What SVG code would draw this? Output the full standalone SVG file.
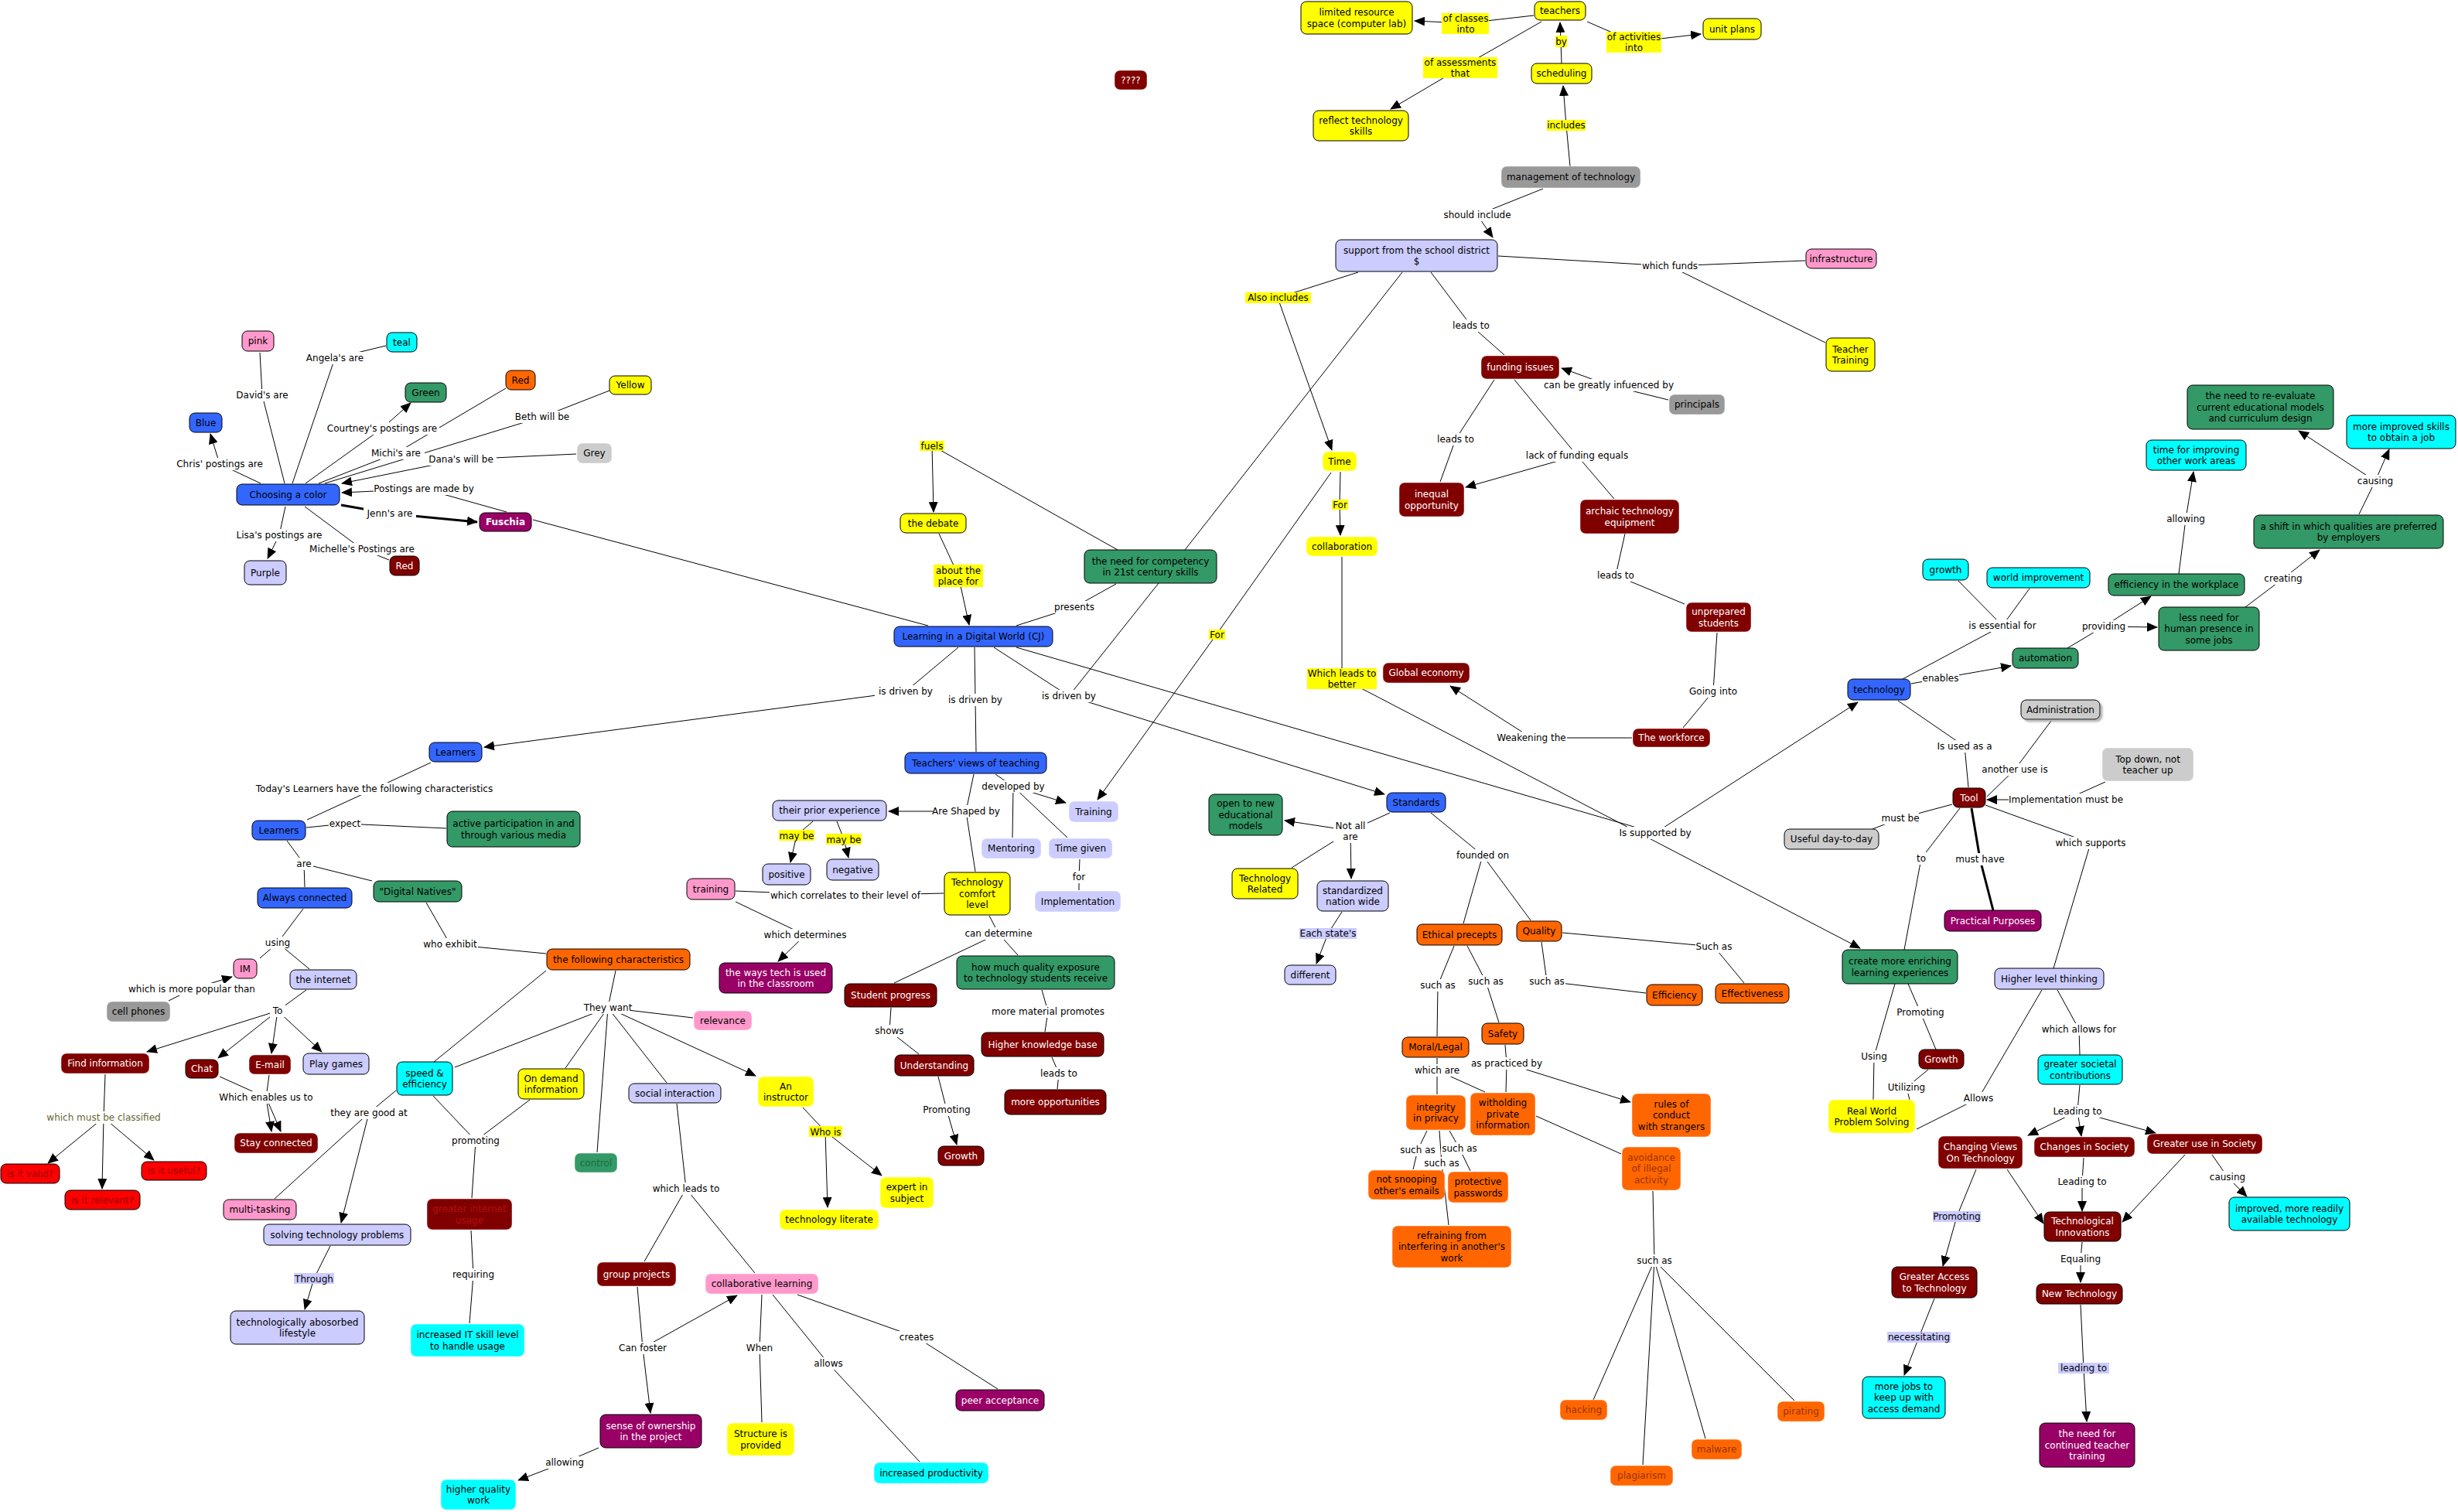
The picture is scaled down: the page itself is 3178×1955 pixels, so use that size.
<svg xmlns="http://www.w3.org/2000/svg" width="3178" height="1955" viewBox="0 0 3178 1955">
<defs>
<style>
.t{font-family:"DejaVu Sans",Verdana,"Liberation Sans",sans-serif;font-size:12px;text-anchor:middle;fill:#000}
.w{fill:#fff}
.b{font-weight:bold}
.ol{fill:#666633}
.dk{fill:#993300}
.n rect{stroke:#000;stroke-width:1}
.n.nb rect{stroke:#fff;stroke-opacity:.45}
.bl{fill:#3366ff}.lv{fill:#ccccff}.gr{fill:#339966}.dr{fill:#800000}.pu{fill:#990066}.ye{fill:#ffff00}.cy{fill:#00ffff}.or{fill:#ff6600}.pk{fill:#ff99cc}.g9{fill:#999999}.gc{fill:#cccccc}.rd{fill:#ff0000}
.m{fill:#fff}
#connectors path{stroke:#000;stroke-width:1;fill:none}
#connectors path.a{marker-end:url(#ar)}
#connectors path.k{stroke-width:3}
</style>
<marker id="ar" markerWidth="14" markerHeight="12" refX="13" refY="6" orient="auto" markerUnits="userSpaceOnUse"><path d="M0,0 L14,6 L0,12 z" fill="#000"/></marker>
<filter id="sh" x="-10%" y="-10%" width="130%" height="150%"><feDropShadow dx="3" dy="3" stdDeviation="1" flood-color="#999" flood-opacity=".7"/></filter>
</defs>
<rect width="3178" height="1955" fill="#fff"/>

<g id="connectors">
<!-- color cluster -->
<path d="M336 456L339 511L368 625"/>
<path d="M378 625L433 463L499 447"/>
<path d="M395 625L494 554"/><path class="a" d="M494 554L531 521"/>
<path d="M412 625L512 586L654 502"/>
<path d="M420 625L701 539L788 505"/>
<path d="M745 587L596 594"/><path class="a" d="M596 594L442 625"/>
<path d="M655 662L548 632"/><path class="a" d="M548 632L442 637"/>
<path d="M337 625L284 600"/><path class="a" d="M284 600L272 561"/>
<path class="k" d="M441 653L504 664"/><path class="a k" d="M504 664L617 675"/>
<path d="M369 655L361 692"/><path class="a" d="M361 692L346 722"/>
<path d="M394 655L468 710L503 724"/>
<path d="M689 672L1200 809"/>
<!-- top -->
<path d="M1983 20L1895 30"/><path class="a" d="M1895 30L1829 27"/>
<path d="M1993 28L1888 88"/><path class="a" d="M1888 88L1798 141"/>
<path d="M2019 82L2018 54"/><path class="a" d="M2018 54L2017 29"/>
<path d="M2052 28L2112 54"/><path class="a" d="M2112 54L2199 44"/>
<path d="M2030 215L2025 162"/><path class="a" d="M2025 162L2021 111"/>
<path d="M1995 244L1910 278"/><path class="a" d="M1910 278L1930 307"/>
<path d="M1937 331L2159 344L2334 337"/><path d="M2159 344L2360 443"/>
<path d="M1756 352L1652 385"/><path class="a" d="M1652 385L1722 582"/>
<path d="M1850 352L1902 421L1945 459"/>
<path d="M1813 352L1532 711"/>
<path d="M1932 491L1882 568L1862 623"/>
<path d="M1958 491L2039 589L2087 645"/><path class="a" d="M2039 589L1895 630"/>
<path d="M2157 517L2080 498"/><path class="a" d="M2080 498L2019 476"/>
<path d="M2101 690L2089 744L2178 781"/>
<path d="M2220 818L2215 894L2176 941"/>
<path d="M2110 954L1980 954"/><path class="a" d="M1980 954L1875 887"/>
<path d="M1733 610L1732 652"/><path class="a" d="M1732 652L1733 692"/>
<path d="M1721 611L1573 820"/><path class="a" d="M1573 820L1419 1034"/>
<path d="M1735 720L1735 877"/><path class="a" d="M1735 877L2405 1226"/>
<!-- learning -->
<path d="M1445 711L1205 576"/><path class="a" d="M1205 576L1207 662"/>
<path d="M1214 690L1239 744"/><path class="a" d="M1239 744L1253 808"/>
<path d="M1443 755L1389 785L1314 809"/>
<path d="M1239 837L1171 894"/><path class="a" d="M1171 894L626 966"/>
<path d="M1260 837L1261 905L1262 972"/>
<path d="M1285 837L1382 900"/><path class="a" d="M1382 900L1790 1027"/>
<path d="M1498 754L1382 900"/>
<path d="M1314 837L2140 1077"/><path class="a" d="M2140 1077L2402 908"/>
<path d="M1287 1001L1310 1017"/><path class="a" d="M1310 1017L1378 1038"/><path d="M1310 1017L1309 1083"/><path d="M1310 1017L1380 1083"/>
<path d="M1259 1001L1249 1049L1261 1127"/><path class="a" d="M1249 1049L1149 1049"/>
<path d="M1051 1062L1030 1080"/><path class="a" d="M1030 1080L1022 1115"/>
<path d="M1082 1062L1091 1085"/><path class="a" d="M1091 1085L1097 1109"/>
<path d="M1396 1111L1395 1134L1395 1151"/>
<path d="M951 1152L1093 1158L1220 1155"/>
<path d="M951 1166L1041 1209"/><path class="a" d="M1041 1209L1006 1243"/>
<path d="M1279 1184L1291 1207L1156 1271"/><path d="M1291 1207L1316 1235"/>
<path d="M1347 1280L1355 1308L1351 1334"/>
<path d="M1152 1303L1150 1333L1188 1363"/>
<path d="M1360 1367L1369 1388L1367 1408"/>
<path d="M1213 1392L1224 1435"/><path class="a" d="M1224 1435L1237 1480"/>
<!-- left -->
<path d="M557 986L484 1020L397 1060"/>
<path d="M396 1070L446 1065L577 1071"/>
<path d="M371 1087L393 1117L394 1147"/><path d="M393 1117L481 1139"/>
<path d="M392 1175L359 1219L336 1239"/><path d="M359 1219L400 1253"/>
<path d="M218 1294L248 1279"/><path class="a" d="M248 1279L300 1263"/>
<path d="M396 1280L359 1307"/><path class="a" d="M359 1307L190 1360"/><path class="a" d="M359 1307L282 1368"/><path class="a" d="M359 1307L351 1362"/><path class="a" d="M359 1307L416 1360"/>
<path d="M551 1167L582 1221L706 1233"/>
<path d="M796 1255L786 1303L588 1380"/><path d="M786 1303L731 1381"/><path d="M786 1303L772 1490"/><path d="M786 1303L896 1316"/><path class="a" d="M786 1303L977 1391"/><path d="M786 1303L862 1400"/>
<path d="M706 1255L561 1373"/>
<path d="M284 1392L344 1419"/><path d="M348 1390L344 1419"/><path class="a" d="M344 1419L351 1463"/><path class="a" d="M344 1419L363 1463"/>
<path d="M136 1389L134 1445"/><path class="a" d="M134 1445L62 1504"/><path class="a" d="M134 1445L132 1537"/><path class="a" d="M134 1445L199 1500"/>
<path d="M512 1410L477 1439L355 1550"/><path class="a" d="M477 1439L441 1581"/>
<path d="M427 1611L406 1653"/><path class="a" d="M406 1653L394 1693"/>
<path d="M560 1417L615 1475L610 1549"/><path d="M685 1422L615 1475"/>
<path d="M609 1591L612 1648L607 1711"/>
<path d="M875 1427L887 1537L833 1631"/><path d="M887 1537L976 1646"/>
<path d="M1038 1432L1067 1463"/><path class="a" d="M1067 1463L1070 1561"/><path class="a" d="M1067 1463L1140 1520"/>
<path d="M824 1664L831 1743"/><path class="a" d="M831 1743L841 1827"/><path class="a" d="M831 1743L953 1675"/>
<path d="M985 1674L982 1743L985 1839"/>
<path d="M999 1674L1071 1763L1189 1890"/>
<path d="M1031 1674L1185 1729L1290 1796"/>
<path d="M774 1872L730 1891"/><path class="a" d="M730 1891L670 1914"/>
<!-- standards -->
<path d="M1797 1051L1746 1074L1670 1122"/><path class="a" d="M1746 1074L1661 1061"/><path class="a" d="M1746 1074L1747 1136"/>
<path d="M1735 1179L1717 1207"/><path class="a" d="M1717 1207L1702 1246"/>
<path d="M1850 1051L1917 1106L1892 1194"/><path d="M1917 1106L1979 1190"/>
<path d="M2020 1206L2216 1224L2255 1271"/>
<path d="M1993 1218L2000 1269L2128 1284"/>
<path d="M1880 1223L1859 1274L1858 1340"/>
<path d="M1897 1223L1921 1269L1938 1322"/>
<path d="M1858 1368L1858 1384L1858 1415"/><path d="M1858 1384L1920 1412"/>
<path d="M1946 1351L1948 1375L1947 1412"/><path class="a" d="M1948 1375L2108 1425"/>
<path d="M1845 1462L1833 1487L1827 1512"/>
<path d="M1874 1462L1887 1485L1901 1514"/>
<path d="M1861 1462L1864 1504L1873 1584"/>
<path d="M1986 1443L2096 1492"/>
<path d="M2137 1540L2139 1630"/><path d="M2139 1630L2060 1810"/><path d="M2139 1630L2124 1894"/><path d="M2139 1630L2205 1860"/><path d="M2139 1630L2320 1811"/>
<!-- right -->
<path d="M3050 665L3071 622"/><path class="a" d="M3071 622L2972 557"/><path class="a" d="M3071 622L3089 581"/>
<path d="M2817 742L2826 671"/><path class="a" d="M2826 671L2836 610"/>
<path d="M2903 785L2952 748"/><path class="a" d="M2952 748L2999 711"/>
<path d="M2673 838L2720 810"/><path class="a" d="M2720 810L2781 771"/><path class="a" d="M2720 810L2789 811"/>
<path d="M2471 884L2509 877"/><path class="a" d="M2509 877L2600 861"/>
<path d="M2460 878L2589 809L2532 751"/><path d="M2589 809L2624 761"/>
<path d="M2454 906L2540 965L2545 1018"/>
<path d="M2652 932L2605 995L2569 1030"/>
<path d="M2722 1011L2671 1034"/><path class="a" d="M2671 1034L2569 1034"/>
<path d="M2524 1040L2457 1058L2421 1072"/>
<path d="M2567 1041L2703 1090L2655 1252"/>
<path d="M2534 1045L2484 1110L2462 1228"/>
<path class="k" d="M2549 1045L2560 1111L2577 1177"/>
<path d="M2467 1272L2483 1309L2503 1357"/>
<path d="M2450 1272L2423 1366L2422 1422"/>
<path d="M2493 1383L2465 1406L2469 1422"/>
<path d="M2660 1280L2688 1331L2689 1364"/>
<path d="M2640 1280L2558 1420L2478 1460"/>
<path d="M2689 1403L2686 1437"/><path class="a" d="M2686 1437L2622 1468"/><path class="a" d="M2686 1437L2691 1469"/><path class="a" d="M2686 1437L2787 1465"/>
<path d="M2555 1512L2530 1573"/><path class="a" d="M2530 1573L2512 1637"/>
<path class="a" d="M2595 1512L2642 1582"/>
<path d="M2694 1497L2692 1528"/><path class="a" d="M2692 1528L2692 1566"/>
<path class="a" d="M2825 1493L2744 1580"/>
<path d="M2860 1493L2880 1522"/><path class="a" d="M2880 1522L2905 1547"/>
<path d="M2692 1606L2690 1628"/><path class="a" d="M2690 1628L2690 1658"/>
<path d="M2501 1679L2481 1729"/><path class="a" d="M2481 1729L2462 1778"/>
<path d="M2690 1687L2694 1769"/><path class="a" d="M2694 1769L2698 1838"/>
</g>

<g id="labels">
<rect class="m" x="302" y="503" width="74" height="16"/><text class="t" x="339" y="515.3">David's are</text>
<rect class="m" x="393" y="455" width="80" height="16"/><text class="t" x="433" y="467.3">Angela's are</text>
<rect class="m" x="420" y="546" width="148" height="16"/><text class="t" x="494" y="558.3">Courtney's postings are</text>
<rect class="m" x="661" y="531" width="80" height="16"/><text class="t" x="701" y="543.3">Beth will be</text>
<rect class="m" x="475" y="578" width="74" height="16"/><text class="t" x="512" y="590.3">Michi's are</text>
<rect class="m" x="550" y="586" width="92" height="16"/><text class="t" x="596" y="598.3">Dana's will be</text>
<rect class="m" x="222" y="592" width="124" height="16"/><text class="t" x="284" y="604.3">Chris' postings are</text>
<rect class="m" x="483" y="624" width="130" height="16"/><text class="t" x="548" y="636.3">Postings are made by</text>
<rect class="m" x="470" y="656" width="68" height="16"/><text class="t" x="504" y="668.3">Jenn's are</text>
<rect class="m" x="299" y="684" width="124" height="16"/><text class="t" x="361" y="696.3">Lisa's postings are</text>
<rect class="m" x="394" y="702" width="148" height="16"/><text class="t" x="468" y="714.3">Michelle's Postings are</text>

<rect class="ye" x="1864" y="17" width="61" height="27"/><text class="t" x="1895" y="27.5">of classes<tspan x="1895" dy="14">into</tspan></text>
<rect class="ye" x="1840" y="74" width="96" height="27"/><text class="t" x="1888" y="84.5">of assessments<tspan x="1888" dy="14">that</tspan></text>
<rect class="ye" x="2011" y="46" width="15" height="15"/><text class="t" x="2018.5" y="57.5">by</text>
<rect class="ye" x="2077" y="41" width="71" height="27"/><text class="t" x="2112.5" y="51.5">of activities<tspan x="2112.5" dy="14">into</tspan></text>
<rect class="ye" x="2000" y="155" width="50" height="14"/><text class="t" x="2025" y="166.3">includes</text>
<rect class="m" x="1864" y="270" width="92" height="16"/><text class="t" x="1910" y="282.3">should include</text>
<rect class="m" x="2122" y="336" width="74" height="16"/><text class="t" x="2159" y="348.3">which funds</text>
<rect class="ye" x="1610" y="378" width="85" height="14"/><text class="t" x="1652.5" y="389.3">Also includes</text>
<rect class="m" x="1875" y="413" width="54" height="16"/><text class="t" x="1902" y="425.3">leads to</text>
<rect class="m" x="1994" y="490" width="172" height="16"/><text class="t" x="2080" y="502.3">can be greatly infuenced by</text>
<rect class="m" x="1855" y="560" width="54" height="16"/><text class="t" x="1882" y="572.3">leads to</text>
<rect class="m" x="1969" y="581" width="140" height="16"/><text class="t" x="2039" y="593.3">lack of funding equals</text>
<rect class="ye" x="1722" y="646" width="21" height="13"/><text class="t" x="1732.5" y="657">For</text>
<rect class="m" x="2062" y="736" width="54" height="16"/><text class="t" x="2089" y="748.3">leads to</text>
<rect class="ye" x="1690" y="864" width="90" height="27"/><text class="t" x="1735" y="874.5">Which leads to<tspan x="1735" dy="14">better</tspan></text>
<rect class="m" x="2182" y="886" width="66" height="16"/><text class="t" x="2215" y="898.3">Going into</text>
<rect class="m" x="1934" y="946" width="92" height="16"/><text class="t" x="1980" y="958.3">Weakening the</text>
<rect class="ye" x="1189" y="570" width="32" height="13"/><text class="t" x="1205" y="580.5">fuels</text>
<rect class="ye" x="1207" y="730" width="64" height="29"/><text class="t" x="1239" y="741.5">about the<tspan x="1239" dy="14">place for</tspan></text>
<rect class="m" x="1362" y="777" width="54" height="16"/><text class="t" x="1389" y="789.3">presents</text>
<rect class="ye" x="1563" y="814" width="21" height="13"/><text class="t" x="1573.5" y="825">For</text>
<rect class="m" x="1131" y="886" width="80" height="16"/><text class="t" x="1171" y="898.3">is driven by</text>
<rect class="m" x="1221" y="897" width="80" height="16"/><text class="t" x="1261" y="909.3">is driven by</text>
<rect class="m" x="1342" y="892" width="80" height="16"/><text class="t" x="1382" y="904.3">is driven by</text>
<rect class="m" x="2091" y="1069" width="98" height="16"/><text class="t" x="2140" y="1081.3">Is supported by</text>
<rect class="m" x="1270" y="1009" width="80" height="16"/><text class="t" x="1310" y="1021.3">developed by</text>
<rect class="m" x="1206" y="1041" width="86" height="16"/><text class="t" x="1249" y="1053.3">Are Shaped by</text>
<rect class="ye" x="1007" y="1073" width="46" height="14"/><text class="t" x="1030" y="1084.5">may be</text>
<rect class="ye" x="1068" y="1078" width="46" height="14"/><text class="t" x="1091" y="1089.5">may be</text>
<rect class="m" x="1383" y="1126" width="24" height="16"/><text class="t" x="1395" y="1138.3">for</text>
<rect class="m" x="995" y="1150" width="196" height="16"/><text class="t" x="1093" y="1162.3">which correlates to their level of</text>
<rect class="m" x="986" y="1201" width="110" height="16"/><text class="t" x="1041" y="1213.3">which determines</text>
<rect class="m" x="1248" y="1199" width="86" height="16"/><text class="t" x="1291" y="1211.3">can determine</text>
<rect class="m" x="1281" y="1300" width="148" height="16"/><text class="t" x="1355" y="1312.3">more material promotes</text>
<rect class="m" x="1129" y="1325" width="42" height="16"/><text class="t" x="1150" y="1337.3">shows</text>
<rect class="m" x="1342" y="1380" width="54" height="16"/><text class="t" x="1369" y="1392.3">leads to</text>
<rect class="m" x="1193" y="1427" width="62" height="16"/><text class="t" x="1224" y="1439.3">Promoting</text>
<rect class="ye" x="1046" y="1456" width="43" height="14"/><text class="t" x="1067.5" y="1467.5">Who is</text>
<rect class="m" x="841" y="1529" width="92" height="16"/><text class="t" x="887" y="1541.3">which leads to</text>
<rect class="m" x="798" y="1735" width="66" height="16"/><text class="t" x="831" y="1747.3">Can foster</text>
<rect class="m" x="964" y="1735" width="36" height="16"/><text class="t" x="982" y="1747.3">When</text>
<rect class="m" x="1050" y="1755" width="42" height="16"/><text class="t" x="1071" y="1767.3">allows</text>
<rect class="m" x="1161" y="1721" width="48" height="16"/><text class="t" x="1185" y="1733.3">creates</text>
<rect class="m" x="703" y="1883" width="54" height="16"/><text class="t" x="730" y="1895.3">allowing</text>
<rect class="m" x="1724" y="1059" width="44" height="31"/><text class="t" x="1746" y="1071.5">Not all<tspan x="1746" dy="14.5">are</tspan></text>
<rect class="lv" x="1680" y="1200" width="74" height="14"/><text class="t" x="1717" y="1211.3">Each state's</text>
<rect class="m" x="1884" y="1098" width="66" height="16"/><text class="t" x="1917" y="1110.3">founded on</text>
<rect class="m" x="2192" y="1216" width="48" height="16"/><text class="t" x="2216" y="1228.3">Such as</text>
<rect class="m" x="1835" y="1266" width="48" height="16"/><text class="t" x="1859" y="1278.3">such as</text>
<rect class="m" x="1897" y="1261" width="48" height="16"/><text class="t" x="1921" y="1273.3">such as</text>
<rect class="m" x="1976" y="1261" width="48" height="16"/><text class="t" x="2000" y="1273.3">such as</text>
<rect class="m" x="1828" y="1376" width="60" height="16"/><text class="t" x="1858" y="1388.3">which are</text>
<rect class="m" x="1899" y="1367" width="98" height="16"/><text class="t" x="1948" y="1379.3">as practiced by</text>
<rect class="m" x="1809" y="1479" width="48" height="16"/><text class="t" x="1833" y="1491.3">such as</text>
<rect class="m" x="1863" y="1477" width="48" height="16"/><text class="t" x="1887" y="1489.3">such as</text>
<rect class="m" x="1840" y="1496" width="48" height="16"/><text class="t" x="1864" y="1508.3">such as</text>
<rect class="m" x="2115" y="1622" width="48" height="16"/><text class="t" x="2139" y="1634.3">such as</text>
<rect class="m" x="3047" y="614" width="48" height="16"/><text class="t" x="3071" y="626.3">causing</text>
<rect class="m" x="2799" y="663" width="54" height="16"/><text class="t" x="2826" y="675.3">allowing</text>
<rect class="m" x="2925" y="740" width="54" height="16"/><text class="t" x="2952" y="752.3">creating</text>
<rect class="m" x="2537" y="801" width="104" height="16"/><text class="t" x="2589" y="813.3">is essential for</text>
<rect class="m" x="2689" y="802" width="62" height="16"/><text class="t" x="2720" y="814.3">providing</text>
<rect class="m" x="2485" y="869" width="48" height="16"/><text class="t" x="2509" y="881.3">enables</text>
<rect class="m" x="2500" y="957" width="80" height="16"/><text class="t" x="2540" y="969.3">Is used as a</text>
<rect class="m" x="2559" y="987" width="92" height="16"/><text class="t" x="2605" y="999.3">another use is</text>
<rect class="m" x="2597" y="1026" width="148" height="16"/><text class="t" x="2671" y="1038.3">Implementation must be</text>
<rect class="m" x="2433" y="1050" width="48" height="16"/><text class="t" x="2457" y="1062.3">must be</text>
<rect class="m" x="2657" y="1082" width="92" height="16"/><text class="t" x="2703" y="1094.3">which supports</text>
<rect class="m" x="2475" y="1102" width="18" height="16"/><text class="t" x="2484" y="1114.3">to</text>
<rect class="m" x="2529" y="1103" width="62" height="16"/><text class="t" x="2560" y="1115.3">must have</text>
<rect class="m" x="2452" y="1301" width="62" height="16"/><text class="t" x="2483" y="1313.3">Promoting</text>
<rect class="m" x="2636" y="1323" width="104" height="16"/><text class="t" x="2688" y="1335.3">which allows for</text>
<rect class="m" x="2405" y="1358" width="36" height="16"/><text class="t" x="2423" y="1370.3">Using</text>
<rect class="m" x="2435" y="1398" width="60" height="16"/><text class="t" x="2465" y="1410.3">Utilizing</text>
<rect class="m" x="2537" y="1412" width="42" height="16"/><text class="t" x="2558" y="1424.3">Allows</text>
<rect class="m" x="2653" y="1429" width="66" height="16"/><text class="t" x="2686" y="1441.3">Leading to</text>
<rect class="lv" x="2499" y="1566" width="62" height="14"/><text class="t" x="2530" y="1577.3">Promoting</text>
<rect class="m" x="2659" y="1520" width="66" height="16"/><text class="t" x="2692" y="1532.3">Leading to</text>
<rect class="m" x="2856" y="1514" width="48" height="16"/><text class="t" x="2880" y="1526.3">causing</text>
<rect class="m" x="2661" y="1620" width="58" height="16"/><text class="t" x="2690" y="1632.3">Equaling</text>
<rect class="lv" x="2440" y="1722" width="82" height="14"/><text class="t" x="2481" y="1733.3">necessitating</text>
<rect class="lv" x="2661" y="1762" width="66" height="14"/><text class="t" x="2694" y="1773.3">leading to</text>
<rect class="m" x="330" y="1012" width="308" height="16"/><text class="t" x="484" y="1024.3">Today's Learners have the following characteristics</text>
<rect class="m" x="425" y="1057" width="42" height="16"/><text class="t" x="446" y="1069.3">expect</text>
<rect class="m" x="381" y="1109" width="24" height="16"/><text class="t" x="393" y="1121.3">are</text>
<rect class="m" x="341" y="1211" width="36" height="16"/><text class="t" x="359" y="1223.3">using</text>
<rect class="m" x="546" y="1213" width="72" height="16"/><text class="t" x="582" y="1225.3">who exhibit</text>
<rect class="m" x="166" y="1271" width="164" height="16"/><text class="t" x="248" y="1283.3">which is more popular than</text>
<rect class="m" x="349" y="1299" width="20" height="16"/><text class="t" x="359" y="1311.3">To</text>
<rect class="m" x="755" y="1295" width="62" height="16"/><text class="t" x="786" y="1307.3">They want</text>
<rect class="m" x="284" y="1411" width="120" height="16"/><text class="t" x="344" y="1423.3">Which enables us to</text>
<rect class="m" x="427" y="1431" width="100" height="16"/><text class="t" x="477" y="1443.3">they are good at</text>
<rect class="m" x="61" y="1437" width="146" height="16"/><text class="t ol" x="134" y="1449.3">which must be classified</text>
<rect class="m" x="585" y="1467" width="60" height="16"/><text class="t" x="615" y="1479.3">promoting</text>
<rect class="m" x="583" y="1640" width="58" height="16"/><text class="t" x="612" y="1652.3">requiring</text>
<rect class="lv" x="380" y="1646" width="52" height="14"/><text class="t" x="406" y="1657.5">Through</text>
</g>

<g id="nodes">
<g id="n-pink" class="n"><rect class="pk" x="313" y="428" width="41" height="26" rx="7"/><text class="t" x="333.5" y="445.3">pink</text></g>
<g id="n-teal" class="n"><rect class="cy" x="500" y="430" width="39" height="25" rx="7"/><text class="t" x="519.5" y="446.8">teal</text></g>
<g id="n-red-orange" class="n"><rect class="or" x="654" y="479" width="38" height="25" rx="7"/><text class="t" x="673" y="495.8">Red</text></g>
<g id="n-green" class="n"><rect class="gr" x="524" y="495" width="53" height="25" rx="7"/><text class="t" x="550.5" y="511.8">Green</text></g>
<g id="n-yellow" class="n"><rect class="ye" x="788" y="486" width="54" height="24" rx="7"/><text class="t" x="815" y="502.3">Yellow</text></g>
<g id="n-blue" class="n"><rect class="bl" x="245" y="534" width="42" height="25" rx="7"/><text class="t" x="266" y="550.8">Blue</text></g>
<g id="n-grey" class="n nb"><rect class="gc" x="746" y="573" width="45" height="26" rx="7"/><text class="t" x="768.5" y="590.3">Grey</text></g>
<g id="n-choosing" class="n"><rect class="bl" x="306" y="626" width="133" height="27" rx="7"/><text class="t" x="372.5" y="643.8">Choosing a color</text></g>
<g id="n-fuschia" class="n"><rect class="pu" x="620" y="663" width="67" height="24" rx="7"/><text class="t w b" x="653.5" y="679.3">Fuschia</text></g>
<g id="n-purple" class="n"><rect class="lv" x="316" y="725" width="54" height="31" rx="7"/><text class="t" x="343" y="744.8">Purple</text></g>
<g id="n-red-dark" class="n"><rect class="dr" x="504" y="719" width="38" height="25" rx="7"/><text class="t w" x="523" y="735.8">Red</text></g>
<g id="n-qqqq" class="n nb"><rect class="dr" x="1441" y="91" width="42" height="25" rx="7"/><text class="t w" x="1462" y="107.8">????</text></g>

<g id="n-limited" class="n"><rect class="ye" x="1682" y="2" width="144" height="42" rx="7"/><text class="t" x="1754" y="20">limited resource<tspan x="1754" dy="14.5">space (computer lab)</tspan></text></g>
<g id="n-teachers" class="n"><rect class="ye" x="1984" y="2" width="66" height="24" rx="7"/><text class="t" x="2017" y="18.3">teachers</text></g>
<g id="n-unit-plans" class="n"><rect class="ye" x="2202" y="24" width="75" height="27" rx="7"/><text class="t" x="2239.5" y="41.8">unit plans</text></g>
<g id="n-scheduling" class="n"><rect class="ye" x="1980" y="82" width="78" height="26" rx="7"/><text class="t" x="2019" y="99.3">scheduling</text></g>
<g id="n-reflect" class="n"><rect class="ye" x="1698" y="143" width="123" height="39" rx="7"/><text class="t" x="1759.5" y="159.6">reflect technology<tspan x="1759.5" dy="14.5">skills</tspan></text></g>
<g id="n-mgmt" class="n nb"><rect class="g9" x="1941" y="215" width="180" height="28" rx="7"/><text class="t" x="2031" y="233.3">management of technology</text></g>
<g id="n-support" class="n"><rect class="lv" x="1727" y="310" width="209" height="41" rx="7"/><text class="t" x="1831.5" y="327.6">support from the school district<tspan x="1831.5" dy="14.5">$</tspan></text></g>
<g id="n-infrastructure" class="n"><rect class="pk" x="2335" y="322" width="91" height="25" rx="7"/><text class="t" x="2380.5" y="338.8">infrastructure</text></g>
<g id="n-teacher-training" class="n"><rect class="ye" x="2361" y="437" width="63" height="43" rx="7"/><text class="t" x="2392.5" y="455.6">Teacher<tspan x="2392.5" dy="14.5">Training</tspan></text></g>
<g id="n-funding" class="n nb"><rect class="dr" x="1915" y="460" width="101" height="30" rx="7"/><text class="t w" x="1965.5" y="479.3">funding issues</text></g>
<g id="n-principals" class="n nb"><rect class="g9" x="2158" y="510" width="72" height="26" rx="7"/><text class="t" x="2194" y="527.3">principals</text></g>

<g id="n-debate" class="n"><rect class="ye" x="1164" y="664" width="85" height="25" rx="7"/><text class="t" x="1206.5" y="680.8">the debate</text></g>
<g id="n-need-competency" class="n"><rect class="gr" x="1402" y="711" width="171" height="43" rx="7"/><text class="t" x="1487.5" y="729.6">the need for competency<tspan x="1487.5" dy="14.5">in 21st century skills</tspan></text></g>
<g id="n-learning" class="n"><rect class="bl" x="1156" y="810" width="205" height="26" rx="7"/><text class="t" x="1258.5" y="827.3">Learning in a Digital World (CJ)</text></g>
<g id="n-time" class="n nb"><rect class="ye" x="1710" y="584" width="44" height="25" rx="7"/><text class="t" x="1732" y="600.8">Time</text></g>
<g id="n-collaboration" class="n nb"><rect class="ye" x="1689" y="694" width="92" height="25" rx="7"/><text class="t" x="1735" y="710.8">collaboration</text></g>
<g id="n-inequal" class="n nb"><rect class="dr" x="1809" y="624" width="84" height="44" rx="7"/><text class="t w" x="1851" y="643.1">inequal<tspan x="1851" dy="14.5">opportunity</tspan></text></g>
<g id="n-archaic" class="n nb"><rect class="dr" x="2043" y="646" width="128" height="44" rx="7"/><text class="t w" x="2107" y="665.1">archaic technology<tspan x="2107" dy="14.5">equipment</tspan></text></g>
<g id="n-unprepared" class="n nb"><rect class="dr" x="2180" y="779" width="84" height="38" rx="7"/><text class="t w" x="2222" y="795.1">unprepared<tspan x="2222" dy="14.5">students</tspan></text></g>
<g id="n-global" class="n nb"><rect class="dr" x="1788" y="857" width="112" height="26" rx="7"/><text class="t w" x="1844" y="874.3">Global economy</text></g>
<g id="n-workforce" class="n nb"><rect class="dr" x="2111" y="942" width="100" height="24" rx="7"/><text class="t w" x="2161" y="958.3">The workforce</text></g>

<g id="n-reevaluate" class="n"><rect class="gr" x="2828" y="498" width="189" height="57" rx="7"/><text class="t" x="2922.5" y="516.3">the need to re-evaluate<tspan x="2922.5" dy="14.5">current educational models</tspan><tspan x="2922.5" dy="14.5">and curriculum design</tspan></text></g>
<g id="n-improved-skills" class="n"><rect class="cy" x="3034" y="537" width="141" height="43" rx="7"/><text class="t" x="3104.5" y="555.6">more improved skills<tspan x="3104.5" dy="14.5">to obtain a job</tspan></text></g>
<g id="n-time-improving" class="n"><rect class="cy" x="2775" y="569" width="129" height="39" rx="7"/><text class="t" x="2839.5" y="585.6">time for improving<tspan x="2839.5" dy="14.5">other work areas</tspan></text></g>
<g id="n-shift" class="n"><rect class="gr" x="2914" y="666" width="245" height="43" rx="7"/><text class="t" x="3036.5" y="684.6">a shift in which qualities are preferred<tspan x="3036.5" dy="14.5">by employers</tspan></text></g>
<g id="n-growth-cy" class="n"><rect class="cy" x="2486" y="723" width="59" height="27" rx="7"/><text class="t" x="2515.5" y="740.8">growth</text></g>
<g id="n-world" class="n"><rect class="cy" x="2569" y="734" width="133" height="26" rx="7"/><text class="t" x="2635.5" y="751.3">world improvement</text></g>
<g id="n-efficiency-wp" class="n"><rect class="gr" x="2726" y="742" width="176" height="28" rx="7"/><text class="t" x="2814" y="760.3">efficiency in the workplace</text></g>
<g id="n-less-need" class="n"><rect class="gr" x="2791" y="785" width="130" height="56" rx="7"/><text class="t" x="2856" y="802.8">less need for<tspan x="2856" dy="14.5">human presence in</tspan><tspan x="2856" dy="14.5">some jobs</tspan></text></g>
<g id="n-automation" class="n"><rect class="gr" x="2602" y="838" width="85" height="26" rx="7"/><text class="t" x="2644.5" y="855.3">automation</text></g>
<g id="n-technology" class="n"><rect class="bl" x="2389" y="878" width="81" height="27" rx="7"/><text class="t" x="2429.5" y="895.8">technology</text></g>
<g id="n-administration" class="n"><rect class="gc" x="2613" y="905" width="102" height="25" rx="7" filter="url(#sh)"/><text class="t" x="2664" y="921.8">Administration</text></g>
<g id="n-topdown" class="n nb"><rect class="gc" x="2718" y="967" width="118" height="43" rx="7"/><text class="t" x="2777" y="985.6">Top down, not<tspan x="2777" dy="14.5">teacher up</tspan></text></g>
<g id="n-tool" class="n"><rect class="dr" x="2525" y="1019" width="42" height="25" rx="7"/><text class="t w" x="2546" y="1035.8">Tool</text></g>
<g id="n-useful" class="n"><rect class="gc" x="2307" y="1072" width="122" height="26" rx="7"/><text class="t" x="2368" y="1089.3">Useful day-to-day</text></g>
<g id="n-practical" class="n"><rect class="pu" x="2514" y="1177" width="125" height="27" rx="7"/><text class="t w" x="2576.5" y="1194.8">Practical Purposes</text></g>
<g id="n-create" class="n"><rect class="gr" x="2382" y="1228" width="149" height="44" rx="7"/><text class="t" x="2456.5" y="1247.1">create more enriching<tspan x="2456.5" dy="14.5">learning experiences</tspan></text></g>
<g id="n-hlt" class="n"><rect class="lv" x="2579" y="1252" width="141" height="27" rx="7"/><text class="t" x="2649.5" y="1269.8">Higher level thinking</text></g>
<g id="n-growth-r" class="n"><rect class="dr" x="2481" y="1357" width="58" height="25" rx="7"/><text class="t w" x="2510" y="1373.8">Growth</text></g>
<g id="n-gsc" class="n"><rect class="cy" x="2635" y="1364" width="109" height="38" rx="7"/><text class="t" x="2689.5" y="1380.1">greater societal<tspan x="2689.5" dy="14.5">contributions</tspan></text></g>
<g id="n-realworld" class="n nb"><rect class="ye" x="2364" y="1422" width="112" height="43" rx="7"/><text class="t" x="2420" y="1440.6">Real World<tspan x="2420" dy="14.5">Problem Solving</tspan></text></g>
<g id="n-changing-views" class="n nb"><rect class="dr" x="2506" y="1469" width="109" height="42" rx="7"/><text class="t w" x="2560.5" y="1487.1">Changing Views<tspan x="2560.5" dy="14.5">On Technology</tspan></text></g>
<g id="n-changes-society" class="n nb"><rect class="dr" x="2630" y="1470" width="130" height="26" rx="7"/><text class="t w" x="2695" y="1487.3">Changes in Society</text></g>
<g id="n-greater-use" class="n nb"><rect class="dr" x="2776" y="1466" width="149" height="26" rx="7"/><text class="t w" x="2850.5" y="1483.3">Greater use in Society</text></g>
<g id="n-greater-access" class="n"><rect class="dr" x="2446" y="1638" width="110" height="40" rx="7"/><text class="t w" x="2501" y="1655.1">Greater Access<tspan x="2501" dy="14.5">to Technology</tspan></text></g>
<g id="n-tech-innov" class="n"><rect class="dr" x="2643" y="1567" width="99" height="38" rx="7"/><text class="t w" x="2692.5" y="1583.1">Technological<tspan x="2692.5" dy="14.5">Innovations</tspan></text></g>
<g id="n-improved-tech" class="n"><rect class="cy" x="2882" y="1548" width="156" height="43" rx="7"/><text class="t" x="2960" y="1566.6">improved, more readily<tspan x="2960" dy="14.5">available technology</tspan></text></g>
<g id="n-new-tech" class="n"><rect class="dr" x="2633" y="1660" width="111" height="26" rx="7"/><text class="t w" x="2688.5" y="1677.3">New Technology</text></g>
<g id="n-more-jobs" class="n"><rect class="cy" x="2408" y="1780" width="107" height="54" rx="7"/><text class="t" x="2461.5" y="1796.8">more jobs to<tspan x="2461.5" dy="14.5">keep up with</tspan><tspan x="2461.5" dy="14.5">access demand</tspan></text></g>
<g id="n-continued" class="n"><rect class="pu" x="2637" y="1840" width="123" height="57" rx="7"/><text class="t w" x="2698.5" y="1858.3">the need for<tspan x="2698.5" dy="14.5">continued teacher</tspan><tspan x="2698.5" dy="14.5">training</tspan></text></g>

<g id="n-learners1" class="n"><rect class="bl" x="555" y="960" width="68" height="25" rx="7"/><text class="t" x="589" y="976.8">Learners</text></g>
<g id="n-learners2" class="n"><rect class="bl" x="326" y="1061" width="69" height="25" rx="7"/><text class="t" x="360.5" y="1077.8">Learners</text></g>
<g id="n-active" class="n"><rect class="gr" x="578" y="1049" width="172" height="46" rx="7"/><text class="t" x="664" y="1069.1">active participation in and<tspan x="664" dy="14.5">through various media</tspan></text></g>
<g id="n-always" class="n"><rect class="bl" x="333" y="1148" width="122" height="26" rx="7"/><text class="t" x="394" y="1165.3">Always connected</text></g>
<g id="n-natives" class="n"><rect class="gr" x="483" y="1139" width="114" height="27" rx="7"/><text class="t" x="540" y="1156.8">"Digital Natives"</text></g>
<g id="n-im" class="n"><rect class="pk" x="302" y="1240" width="30" height="25" rx="7"/><text class="t" x="317" y="1256.8">IM</text></g>
<g id="n-internet" class="n"><rect class="lv" x="375" y="1254" width="86" height="25" rx="7"/><text class="t" x="418" y="1270.8">the internet</text></g>
<g id="n-cell" class="n nb"><rect class="g9" x="138" y="1295" width="82" height="26" rx="7"/><text class="t" x="179" y="1312.3">cell phones</text></g>
<g id="n-following" class="n"><rect class="or" x="707" y="1227" width="185" height="27" rx="7"/><text class="t" x="799.5" y="1244.8">the following characteristics</text></g>
<g id="n-find" class="n nb"><rect class="dr" x="79" y="1362" width="114" height="26" rx="7"/><text class="t w" x="136" y="1379.3">Find information</text></g>
<g id="n-chat" class="n"><rect class="dr" x="240" y="1370" width="42" height="24" rx="7"/><text class="t w" x="261" y="1386.3">Chat</text></g>
<g id="n-email" class="n nb"><rect class="dr" x="322" y="1364" width="54" height="25" rx="7"/><text class="t w" x="349" y="1380.8">E-mail</text></g>
<g id="n-games" class="n"><rect class="lv" x="392" y="1362" width="85" height="27" rx="7"/><text class="t" x="434.5" y="1379.8">Play games</text></g>
<g id="n-speed" class="n"><rect class="cy" x="513" y="1373" width="72" height="43" rx="7"/><text class="t" x="549" y="1391.6">speed &amp;<tspan x="549" dy="14.5">efficiency</tspan></text></g>
<g id="n-ondemand" class="n"><rect class="ye" x="670" y="1382" width="85" height="39" rx="7"/><text class="t" x="712.5" y="1398.6">On demand<tspan x="712.5" dy="14.5">information</tspan></text></g>
<g id="n-stay" class="n nb"><rect class="dr" x="303" y="1465" width="108" height="26" rx="7"/><text class="t w" x="357" y="1482.3">Stay connected</text></g>
<g id="n-valid" class="n"><rect class="rd" x="1" y="1505" width="76" height="25" rx="7"/><text class="t" fill="#990000" style="fill:#990000" x="39" y="1521.8">is it valid?</text></g>
<g id="n-useful-q" class="n"><rect class="rd" x="183" y="1502" width="84" height="24" rx="7"/><text class="t" style="fill:#990000" x="225" y="1518.3">is it useful?</text></g>
<g id="n-relevant" class="n"><rect class="rd" x="84" y="1539" width="97" height="25" rx="7"/><text class="t" style="fill:#990000" x="132.5" y="1555.8">is it relevant?</text></g>
<g id="n-multi" class="n"><rect class="pk" x="289" y="1551" width="94" height="26" rx="7"/><text class="t" x="336" y="1568.3">multi-tasking</text></g>
<g id="n-solving" class="n"><rect class="lv" x="341" y="1583" width="190" height="27" rx="7"/><text class="t" x="436" y="1600.8">solving technology problems</text></g>
<g id="n-absorbed" class="n"><rect class="lv" x="298" y="1695" width="173" height="43" rx="7"/><text class="t" x="384.5" y="1713.6">technologically abosorbed<tspan x="384.5" dy="14.5">lifestyle</tspan></text></g>
<g id="n-giu" class="n nb"><rect class="dr" x="552" y="1550" width="110" height="40" rx="7"/><text class="t" style="fill:#b01010" x="607" y="1567.1">greater internet<tspan x="607" dy="14.5">usage</tspan></text></g>
<g id="n-itskill" class="n nb"><rect class="cy" x="531" y="1712" width="147" height="42" rx="7"/><text class="t" x="604.5" y="1730.1">increased IT skill level<tspan x="604.5" dy="14.5">to handle usage</tspan></text></g>
<g id="n-control" class="n nb"><rect class="gr" x="743" y="1491" width="55" height="25" rx="7"/><text class="t" style="fill:#1a6b40" x="770.5" y="1507.8">control</text></g>
<g id="n-hqw" class="n nb"><rect class="cy" x="570" y="1913" width="97" height="39" rx="7"/><text class="t" x="618.5" y="1929.6">higher quality<tspan x="618.5" dy="14.5">work</tspan></text></g>

<g id="n-prior" class="n"><rect class="lv" x="999" y="1035" width="147" height="26" rx="7"/><text class="t" x="1072.5" y="1052.3">their prior experience</text></g>
<g id="n-training-lv" class="n nb"><rect class="lv" x="1382" y="1036" width="64" height="27" rx="7"/><text class="t" x="1414" y="1053.8">Training</text></g>
<g id="n-mentoring" class="n nb"><rect class="lv" x="1269" y="1084" width="77" height="26" rx="7"/><text class="t" x="1307.5" y="1101.3">Mentoring</text></g>
<g id="n-timegiven" class="n nb"><rect class="lv" x="1356" y="1084" width="82" height="26" rx="7"/><text class="t" x="1397" y="1101.3">Time given</text></g>
<g id="n-views" class="n"><rect class="bl" x="1170" y="973" width="183" height="27" rx="7"/><text class="t" x="1261.5" y="990.8">Teachers' views of teaching</text></g>
<g id="n-positive" class="n"><rect class="lv" x="986" y="1117" width="62" height="27" rx="7"/><text class="t" x="1017" y="1134.8">positive</text></g>
<g id="n-negative" class="n"><rect class="lv" x="1069" y="1111" width="67" height="27" rx="7"/><text class="t" x="1102.5" y="1128.8">negative</text></g>
<g id="n-training-pk" class="n"><rect class="pk" x="888" y="1136" width="62" height="27" rx="7"/><text class="t" x="919" y="1153.8">training</text></g>
<g id="n-tcl" class="n"><rect class="ye" x="1221" y="1128" width="85" height="55" rx="7"/><text class="t" x="1263.5" y="1145.3">Technology<tspan x="1263.5" dy="14.5">comfort</tspan><tspan x="1263.5" dy="14.5">level</tspan></text></g>
<g id="n-implementation" class="n nb"><rect class="lv" x="1338" y="1152" width="111" height="27" rx="7"/><text class="t" x="1393.5" y="1169.8">Implementation</text></g>
<g id="n-ways" class="n"><rect class="pu" x="930" y="1245" width="146" height="39" rx="7"/><text class="t w" x="1003" y="1261.6">the ways tech is used<tspan x="1003" dy="14.5">in the classroom</tspan></text></g>
<g id="n-exposure" class="n"><rect class="gr" x="1237" y="1236" width="204" height="43" rx="7"/><text class="t" x="1339" y="1254.6">how much quality exposure<tspan x="1339" dy="14.5">to technology students receive</tspan></text></g>
<g id="n-progress" class="n"><rect class="dr" x="1092" y="1272" width="119" height="30" rx="7"/><text class="t w" x="1151.5" y="1291.3">Student progress</text></g>
<g id="n-relevance" class="n nb"><rect class="pk" x="897" y="1307" width="75" height="25" rx="7"/><text class="t" x="934.5" y="1323.8">relevance</text></g>
<g id="n-hkb" class="n"><rect class="dr" x="1269" y="1335" width="158" height="31" rx="7"/><text class="t w" x="1348" y="1354.8">Higher knowledge base</text></g>
<g id="n-understanding" class="n"><rect class="dr" x="1157" y="1364" width="102" height="27" rx="7"/><text class="t w" x="1208" y="1381.8">Understanding</text></g>
<g id="n-social" class="n"><rect class="lv" x="813" y="1401" width="119" height="25" rx="7"/><text class="t" x="872.5" y="1417.8">social interaction</text></g>
<g id="n-instructor" class="n nb"><rect class="ye" x="980" y="1392" width="72" height="39" rx="7"/><text class="t" x="1016" y="1408.6">An<tspan x="1016" dy="14.5">instructor</tspan></text></g>
<g id="n-opportunities" class="n"><rect class="dr" x="1299" y="1409" width="131" height="32" rx="7"/><text class="t w" x="1364.5" y="1429.3">more opportunities</text></g>
<g id="n-growth-m" class="n"><rect class="dr" x="1213" y="1482" width="59" height="25" rx="7"/><text class="t w" x="1242.5" y="1498.8">Growth</text></g>
<g id="n-expert" class="n nb"><rect class="ye" x="1138" y="1522" width="69" height="40" rx="7"/><text class="t" x="1172.5" y="1539.1">expert in<tspan x="1172.5" dy="14.5">subject</tspan></text></g>
<g id="n-literate" class="n nb"><rect class="ye" x="1008" y="1564" width="128" height="26" rx="7"/><text class="t" x="1072" y="1581.3">technology literate</text></g>
<g id="n-group" class="n nb"><rect class="dr" x="772" y="1632" width="102" height="31" rx="7"/><text class="t w" x="823" y="1651.8">group projects</text></g>
<g id="n-collab" class="n nb"><rect class="pk" x="912" y="1647" width="146" height="26" rx="7"/><text class="t" x="985" y="1664.3">collaborative learning</text></g>
<g id="n-ownership" class="n"><rect class="pu" x="776" y="1829" width="131" height="43" rx="7"/><text class="t w" x="841.5" y="1847.6">sense of ownership<tspan x="841.5" dy="14.5">in the project</tspan></text></g>
<g id="n-structure" class="n nb"><rect class="ye" x="940" y="1840" width="87" height="42" rx="7"/><text class="t" x="983.5" y="1858.1">Structure is<tspan x="983.5" dy="14.5">provided</tspan></text></g>
<g id="n-peer" class="n"><rect class="pu" x="1236" y="1797" width="114" height="27" rx="7"/><text class="t w" x="1293" y="1814.8">peer acceptance</text></g>
<g id="n-productivity" class="n nb"><rect class="cy" x="1130" y="1891" width="148" height="27" rx="7"/><text class="t" x="1204" y="1908.8">increased productivity</text></g>

<g id="n-open" class="n"><rect class="gr" x="1563" y="1027" width="95" height="53" rx="7"/><text class="t" x="1610.5" y="1043.3">open to new<tspan x="1610.5" dy="14.5">educational</tspan><tspan x="1610.5" dy="14.5">models</tspan></text></g>
<g id="n-standards" class="n"><rect class="bl" x="1793" y="1025" width="76" height="25" rx="7"/><text class="t" x="1831" y="1041.8">Standards</text></g>
<g id="n-tech-related" class="n"><rect class="ye" x="1593" y="1123" width="85" height="39" rx="7"/><text class="t" x="1635.5" y="1139.6">Technology<tspan x="1635.5" dy="14.5">Related</tspan></text></g>
<g id="n-standardized" class="n"><rect class="lv" x="1703" y="1139" width="92" height="39" rx="7"/><text class="t" x="1749" y="1155.6">standardized<tspan x="1749" dy="14.5">nation wide</tspan></text></g>
<g id="n-different" class="n"><rect class="lv" x="1661" y="1248" width="66" height="25" rx="7"/><text class="t" x="1694" y="1264.8">different</text></g>
<g id="n-ethical" class="n"><rect class="or" x="1832" y="1195" width="110" height="27" rx="7"/><text class="t" x="1887" y="1212.8">Ethical precepts</text></g>
<g id="n-quality" class="n"><rect class="or" x="1961" y="1191" width="58" height="26" rx="7"/><text class="t" x="1990" y="1208.3">Quality</text></g>
<g id="n-efficiency" class="n"><rect class="or" x="2129" y="1273" width="72" height="27" rx="7"/><text class="t" x="2165" y="1290.8">Efficiency</text></g>
<g id="n-effectiveness" class="n"><rect class="or" x="2218" y="1272" width="95" height="25" rx="7"/><text class="t" x="2265.5" y="1288.8">Effectiveness</text></g>
<g id="n-safety" class="n"><rect class="or" x="1916" y="1323" width="54" height="27" rx="7"/><text class="t" x="1943" y="1340.8">Safety</text></g>
<g id="n-moral" class="n"><rect class="or" x="1813" y="1341" width="86" height="26" rx="7"/><text class="t" x="1856" y="1358.3">Moral/Legal</text></g>
<g id="n-integrity" class="n nb"><rect class="or" x="1818" y="1416" width="77" height="45" rx="7"/><text class="t" x="1856.5" y="1435.6">integrity<tspan x="1856.5" dy="14.5">in privacy</tspan></text></g>
<g id="n-witholding" class="n nb"><rect class="or" x="1901" y="1413" width="84" height="55" rx="7"/><text class="t" x="1943" y="1430.3">witholding<tspan x="1943" dy="14.5">private</tspan><tspan x="1943" dy="14.5">information</tspan></text></g>
<g id="n-rules" class="n nb"><rect class="or" x="2110" y="1414" width="102" height="56" rx="7"/><text class="t" x="2161" y="1431.8">rules of<tspan x="2161" dy="14.5">conduct</tspan><tspan x="2161" dy="14.5">with strangers</tspan></text></g>
<g id="n-snooping" class="n nb"><rect class="or" x="1769" y="1513" width="99" height="38" rx="7"/><text class="t" x="1818.5" y="1529.1">not snooping<tspan x="1818.5" dy="14.5">other's emails</tspan></text></g>
<g id="n-passwords" class="n nb"><rect class="or" x="1872" y="1515" width="78" height="40" rx="7"/><text class="t" x="1911" y="1532.1">protective<tspan x="1911" dy="14.5">passwords</tspan></text></g>
<g id="n-avoidance" class="n nb"><rect class="or" x="2097" y="1483" width="76" height="56" rx="7"/><text class="t dk" x="2135" y="1500.8">avoidance<tspan x="2135" dy="14.5">of illegal</tspan><tspan x="2135" dy="14.5">activity</tspan></text></g>
<g id="n-refraining" class="n nb"><rect class="or" x="1800" y="1585" width="154" height="54" rx="7"/><text class="t" x="1877" y="1601.8">refraining from<tspan x="1877" dy="14.5">interfering in another's</tspan><tspan x="1877" dy="14.5">work</tspan></text></g>
<g id="n-hacking" class="n nb"><rect class="or" x="2017" y="1810" width="61" height="26" rx="7"/><text class="t dk" x="2047.5" y="1827.3">hacking</text></g>
<g id="n-plagiarism" class="n nb"><rect class="or" x="2082" y="1895" width="81" height="26" rx="7"/><text class="t dk" x="2122.5" y="1912.3">plagiarism</text></g>
<g id="n-malware" class="n nb"><rect class="or" x="2187" y="1861" width="65" height="26" rx="7"/><text class="t dk" x="2219.5" y="1878.3">malware</text></g>
<g id="n-pirating" class="n nb"><rect class="or" x="2298" y="1812" width="61" height="26" rx="7"/><text class="t dk" x="2328.5" y="1829.3">pirating</text></g>
</g>
</svg>
